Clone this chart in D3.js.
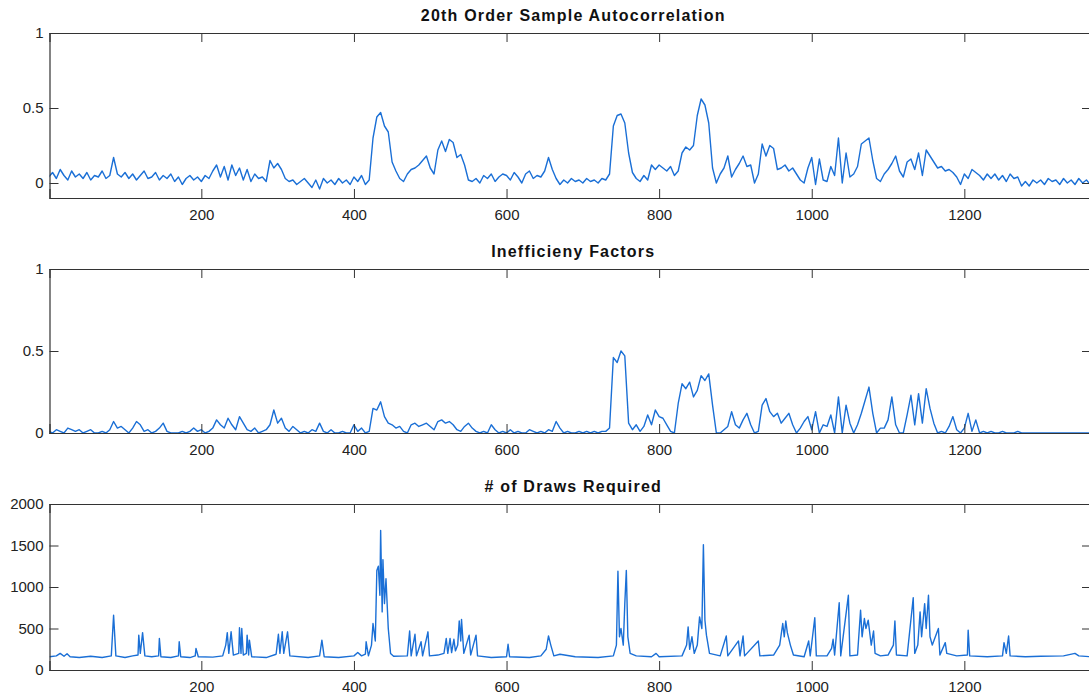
<!DOCTYPE html>
<html>
<head>
<meta charset="utf-8">
<script src="https://cdn.jsdelivr.net/npm/d3@7"></script>
<style>
  body { margin: 0; background: #fff; }
  svg { display: block; font-family: "Liberation Sans", Arial, sans-serif; }
</style>
</head>
<body>
<div id="chart"></div>
<script>
// sample index step for the first two series
var step = 5;

// 20th order sample autocorrelation, one value every 5 draws from 0
var acf = [
  0.04, 0.07, 0.03, 0.09, 0.05, 0.02, 0.08, 0.04, 0.06, 0.03,
  0.07, 0.02, 0.05, 0.04, 0.08, 0.03, 0.05, 0.17, 0.06, 0.04,
  0.07, 0.03, 0.06, 0.02, 0.05, 0.08, 0.03, 0.04, 0.07, 0.02,
  0.05, 0.03, 0.06, 0.01, 0.04, -0.01, 0.03, 0.05, 0.02, 0.04,
  0.01, 0.05, 0.03, 0.08, 0.12, 0.04, 0.11, 0.02, 0.12, 0.05,
  0.10, 0.02, 0.09, 0.01, 0.06, 0.03, 0.04, 0.01, 0.15, 0.10,
  0.13, 0.09, 0.03, 0.01, 0.02, -0.01, 0.01, 0.03, 0.00, -0.03,
  0.02, -0.04, 0.03, 0.00, 0.02, -0.01, 0.03, 0.00, 0.02, -0.01,
  0.04, 0.01, 0.05, -0.01, 0.02, 0.30, 0.44, 0.47, 0.38, 0.34,
  0.14, 0.08, 0.03, 0.01, 0.06, 0.09, 0.10, 0.12, 0.15, 0.18,
  0.10, 0.06, 0.22, 0.28, 0.21, 0.29, 0.27, 0.17, 0.19, 0.12,
  0.02, 0.01, 0.03, 0.00, 0.05, 0.03, 0.06, 0.01, 0.04, 0.06,
  0.05, 0.02, 0.07, 0.04, 0.00, 0.06, 0.08, 0.03, 0.05, 0.04,
  0.08, 0.17, 0.09, 0.03, -0.01, 0.02, 0.00, 0.03, 0.01, 0.02,
  0.00, 0.03, 0.01, 0.02, 0.00, 0.03, 0.02, 0.06, 0.38, 0.45,
  0.46, 0.40, 0.20, 0.07, 0.03, 0.01, 0.05, 0.02, 0.12, 0.09,
  0.12, 0.10, 0.08, 0.11, 0.05, 0.08, 0.20, 0.24, 0.22, 0.25,
  0.45, 0.56, 0.52, 0.40, 0.10, 0.00, 0.06, 0.10, 0.18, 0.04,
  0.09, 0.13, 0.18, 0.11, 0.12, 0.00, 0.06, 0.26, 0.18, 0.25,
  0.23, 0.09, 0.10, 0.12, 0.08, 0.10, 0.06, 0.02, 0.00, 0.10,
  0.17, -0.01, 0.16, 0.02, 0.01, 0.11, 0.05, 0.30, 0.00, 0.20,
  0.04, 0.06, 0.11, 0.26, 0.28, 0.30, 0.15, 0.03, 0.01, 0.06,
  0.09, 0.13, 0.18, 0.08, 0.04, 0.14, 0.16, 0.09, 0.20, 0.05,
  0.22, 0.18, 0.14, 0.10, 0.11, 0.08, 0.09, 0.07, 0.04, -0.01,
  0.06, 0.03, 0.09, 0.07, 0.05, 0.02, 0.06, 0.03, 0.06, 0.02,
  0.05, 0.01, 0.06, 0.03, 0.04, -0.02, 0.01, -0.02, 0.02, 0.00,
  0.02, -0.01, 0.03, 0.01, 0.02, -0.01, 0.03, 0.00, 0.02, -0.01,
  0.03, 0.00, 0.02, -0.01
];

// inefficiency factors, same spacing
var ineff = [
  0.01, 0.00, 0.02, 0.01, 0.00, 0.03, 0.02, 0.01, 0.02, 0.00,
  0.01, 0.02, 0.00, 0.00, 0.01, 0.00, 0.02, 0.07, 0.03, 0.04,
  0.02, 0.00, 0.03, 0.07, 0.05, 0.01, 0.02, 0.00, 0.01, 0.03,
  0.06, 0.01, 0.00, 0.00, 0.00, 0.01, 0.00, 0.01, 0.03, 0.01,
  0.02, 0.00, 0.01, 0.03, 0.08, 0.05, 0.03, 0.09, 0.05, 0.02,
  0.10, 0.06, 0.02, 0.01, 0.03, 0.00, 0.01, 0.02, 0.05, 0.14,
  0.06, 0.09, 0.03, 0.01, 0.04, 0.02, 0.00, 0.01, 0.00, 0.02,
  0.01, 0.06, 0.01, 0.00, 0.02, 0.00, 0.00, 0.01, 0.00, 0.00,
  0.05, 0.01, 0.03, 0.00, 0.01, 0.15, 0.14, 0.19, 0.10, 0.06,
  0.05, 0.03, 0.04, 0.01, 0.00, 0.05, 0.06, 0.04, 0.05, 0.06,
  0.04, 0.02, 0.07, 0.08, 0.06, 0.07, 0.05, 0.02, 0.01, 0.04,
  0.06, 0.03, 0.01, 0.00, 0.01, 0.00, 0.05, 0.02, 0.00, 0.01,
  0.00, 0.02, 0.00, 0.01, 0.00, 0.00, 0.02, 0.01, 0.00, 0.01,
  0.00, 0.02, 0.01, 0.07, 0.03, 0.00, 0.01, 0.00, 0.00, 0.01,
  0.00, 0.01, 0.00, 0.01, 0.00, 0.01, 0.01, 0.03, 0.46, 0.43,
  0.50, 0.47, 0.06, 0.02, 0.05, 0.01, 0.04, 0.11, 0.05, 0.14,
  0.10, 0.09, 0.05, 0.01, 0.00, 0.18, 0.30, 0.27, 0.31, 0.22,
  0.26, 0.35, 0.32, 0.36, 0.17, 0.00, 0.00, 0.02, 0.04, 0.13,
  0.05, 0.03, 0.08, 0.12, 0.05, 0.00, 0.01, 0.17, 0.21, 0.13,
  0.10, 0.12, 0.06, 0.09, 0.12, 0.05, 0.00, 0.03, 0.07, 0.10,
  0.02, 0.13, 0.00, 0.05, 0.04, 0.11, 0.00, 0.22, 0.00, 0.17,
  0.06, 0.00, 0.05, 0.12, 0.20, 0.28, 0.12, 0.00, 0.03, 0.03,
  0.08, 0.22, 0.05, 0.00, 0.00, 0.11, 0.23, 0.05, 0.24, 0.06,
  0.27, 0.15, 0.06, 0.00, 0.01, 0.00, 0.04, 0.10, 0.02, 0.00,
  0.03, 0.12, 0.01, 0.08, 0.00, 0.01, 0.00, 0.01, 0.00, 0.00,
  0.01, 0.00, 0.00, 0.00, 0.01, 0.00, 0.00, 0.00, 0.00, 0.00,
  0.00, 0.00, 0.00, 0.00, 0.00, 0.00, 0.00, 0.00, 0.00, 0.00,
  0.00, 0.00, 0.00, 0.00
];

// # of draws required: draw index and value at the corners of the trace
var drawsX = [
  1, 10, 15, 20, 24, 28, 40, 55, 70, 82, 85, 88, 100, 110, 117, 118, 120, 123, 126, 135,
  144, 145, 147, 160, 170, 171, 173, 185, 192, 193, 196, 215, 228, 232, 234, 236, 239, 242, 249, 250,
  252, 253, 255, 259, 260, 262, 263, 266, 285, 298, 301, 303, 306, 308, 313, 316, 340, 355, 358, 361,
  380, 400, 405, 410, 415, 416, 419, 423, 425, 428, 430, 432, 434, 435, 437, 438, 440, 442, 445, 448,
  452, 470, 473, 475, 480, 482, 488, 490, 497, 499, 510, 518, 521, 523, 526, 528, 531, 533, 536, 538,
  540, 541, 544, 551, 553, 560, 562, 580, 600, 602, 604, 630, 645, 652, 655, 658, 662, 670, 690, 720,
  740, 744, 746, 748, 750, 753, 755, 757, 759, 762, 770, 790, 796, 800, 830, 836, 838, 840, 843, 846,
  850, 853, 856, 858, 860, 862, 866, 880, 888, 890, 904, 906, 910, 912, 930, 932, 950, 958, 962, 964,
  966, 968, 972, 976, 990, 996, 998, 1004, 1006, 1020, 1026, 1028, 1030, 1036, 1038, 1048, 1050, 1060, 1064, 1066,
  1069, 1071, 1074, 1078, 1081, 1083, 1090, 1100, 1107, 1109, 1111, 1125, 1133, 1135, 1139, 1142, 1144, 1148, 1150, 1153,
  1155, 1158, 1166, 1168, 1175, 1177, 1190, 1204, 1205, 1207, 1230, 1250, 1252, 1255, 1258, 1260, 1280, 1300, 1330, 1345,
  1350, 1366
];
var drawsY = [
  160, 170, 200, 165, 195, 160, 150, 165, 150, 170, 660, 170, 150, 170, 180, 420, 200, 450, 170, 160,
  170, 380, 160, 150, 170, 340, 160, 150, 170, 260, 160, 155, 170, 300, 450, 200, 460, 180, 200, 510,
  200, 500, 180, 200, 420, 180, 360, 160, 150, 190, 430, 200, 460, 200, 460, 170, 150, 170, 360, 160,
  150, 170, 210, 170, 190, 340, 170, 300, 560, 350, 1200, 1250, 900, 1680, 700, 1330, 800, 1100, 500, 200,
  165, 170, 470, 170, 430, 170, 340, 170, 460, 170, 180, 200, 380, 200, 380, 210, 370, 230, 300, 590,
  350, 610, 200, 420, 180, 420, 170, 150, 160, 310, 160, 150, 170, 250, 410, 300, 170, 190, 160, 150,
  170, 300, 1190, 400, 500, 300, 800, 1200, 400, 200, 170, 160, 200, 160, 170, 300, 520, 250, 400, 200,
  300, 640, 500, 1510, 600, 420, 200, 170, 410, 170, 350, 170, 410, 170, 350, 170, 180, 300, 560, 400,
  590, 450, 300, 180, 160, 350, 170, 630, 170, 170, 260, 370, 180, 810, 170, 900, 170, 180, 720, 400,
  620, 500, 600, 300, 470, 200, 170, 180, 300, 590, 180, 170, 870, 200, 300, 700, 400, 800, 500, 900,
  400, 300, 500, 180, 330, 200, 170, 180, 480, 170, 160, 170, 330, 200, 410, 170, 160, 165, 170, 200,
  170, 160
];

var xTicks = [200, 400, 600, 800, 1000, 1200];
var titles = ["20th Order Sample Autocorrelation", "Inefficieny Factors", "# of Draws Required"];

var width = 1089, height = 695;
var left = 49.5, right = 1091;
var lineColor = "#1a6fd6";

var svg = d3.select("#chart").append("svg")
    .attr("width", width)
    .attr("height", height);

var x = d3.scaleLinear().domain([1, 1366]).range([left, right]);

var panels = [
    { top: 33, bottom: 198, yDomain: [-0.1, 1], yTicks: [0, 0.5, 1], fmt: d3.format("~g"),
      pts: acf.map(function (v, i) { return [i * step, v]; }) },
    { top: 269, bottom: 433, yDomain: [0, 1], yTicks: [0, 0.5, 1], fmt: d3.format("~g"),
      pts: ineff.map(function (v, i) { return [i * step, v]; }) },
    { top: 504, bottom: 670, yDomain: [0, 2000], yTicks: [0, 500, 1000, 1500, 2000], fmt: d3.format("d"),
      pts: drawsX.map(function (d, i) { return [d, drawsY[i]]; }) }
];

panels.forEach(function (p, k) {
    var y = d3.scaleLinear().domain(p.yDomain).range([p.bottom, p.top]);
    var g = svg.append("g");

    g.append("clipPath").attr("id", "clip" + k)
        .append("rect")
        .attr("x", left).attr("y", p.top)
        .attr("width", right - left).attr("height", p.bottom - p.top);

    var line = d3.line()
        .x(function (d) { return x(d[0]); })
        .y(function (d) { return y(d[1]); });

    g.append("path")
        .datum(p.pts)
        .attr("clip-path", "url(#clip" + k + ")")
        .attr("fill", "none")
        .attr("stroke", lineColor)
        .attr("stroke-width", 1.4)
        .attr("stroke-linejoin", "round")
        .attr("d", line);

    // inward ticks on all four sides, like a boxed matlab axes
    g.append("g").attr("transform", "translate(0," + p.bottom + ")")
        .call(d3.axisBottom(x).tickValues(xTicks).tickSize(-9).tickPadding(11).tickFormat(d3.format("d")));
    g.append("g").attr("transform", "translate(0," + p.top + ")")
        .call(d3.axisTop(x).tickValues(xTicks).tickSize(-9).tickFormat(""));
    g.append("g").attr("transform", "translate(" + left + ",0)")
        .call(d3.axisLeft(y).tickValues(p.yTicks).tickSize(-9).tickPadding(6).tickFormat(p.fmt));
    g.append("g").attr("transform", "translate(" + right + ",0)")
        .call(d3.axisRight(y).tickValues(p.yTicks).tickSize(-9).tickFormat(""));

    g.selectAll(".domain").attr("stroke", "#333").attr("stroke-width", 1.2);
    g.selectAll(".tick line").attr("stroke", "#333");
    g.selectAll(".tick text")
        .attr("fill", "#222")
        .style("font-size", "15px")
        .style("font-family", "'Liberation Sans', Arial, sans-serif");

    g.append("text")
        .attr("x", (left + right) / 2 + 3)
        .attr("y", p.top - 12)
        .attr("text-anchor", "middle")
        .style("font-size", "16px")
        .style("font-weight", "bold")
        .style("letter-spacing", "1.2px")
        .attr("fill", "#111")
        .text(titles[k]);
});
</script>
</body>
</html>
